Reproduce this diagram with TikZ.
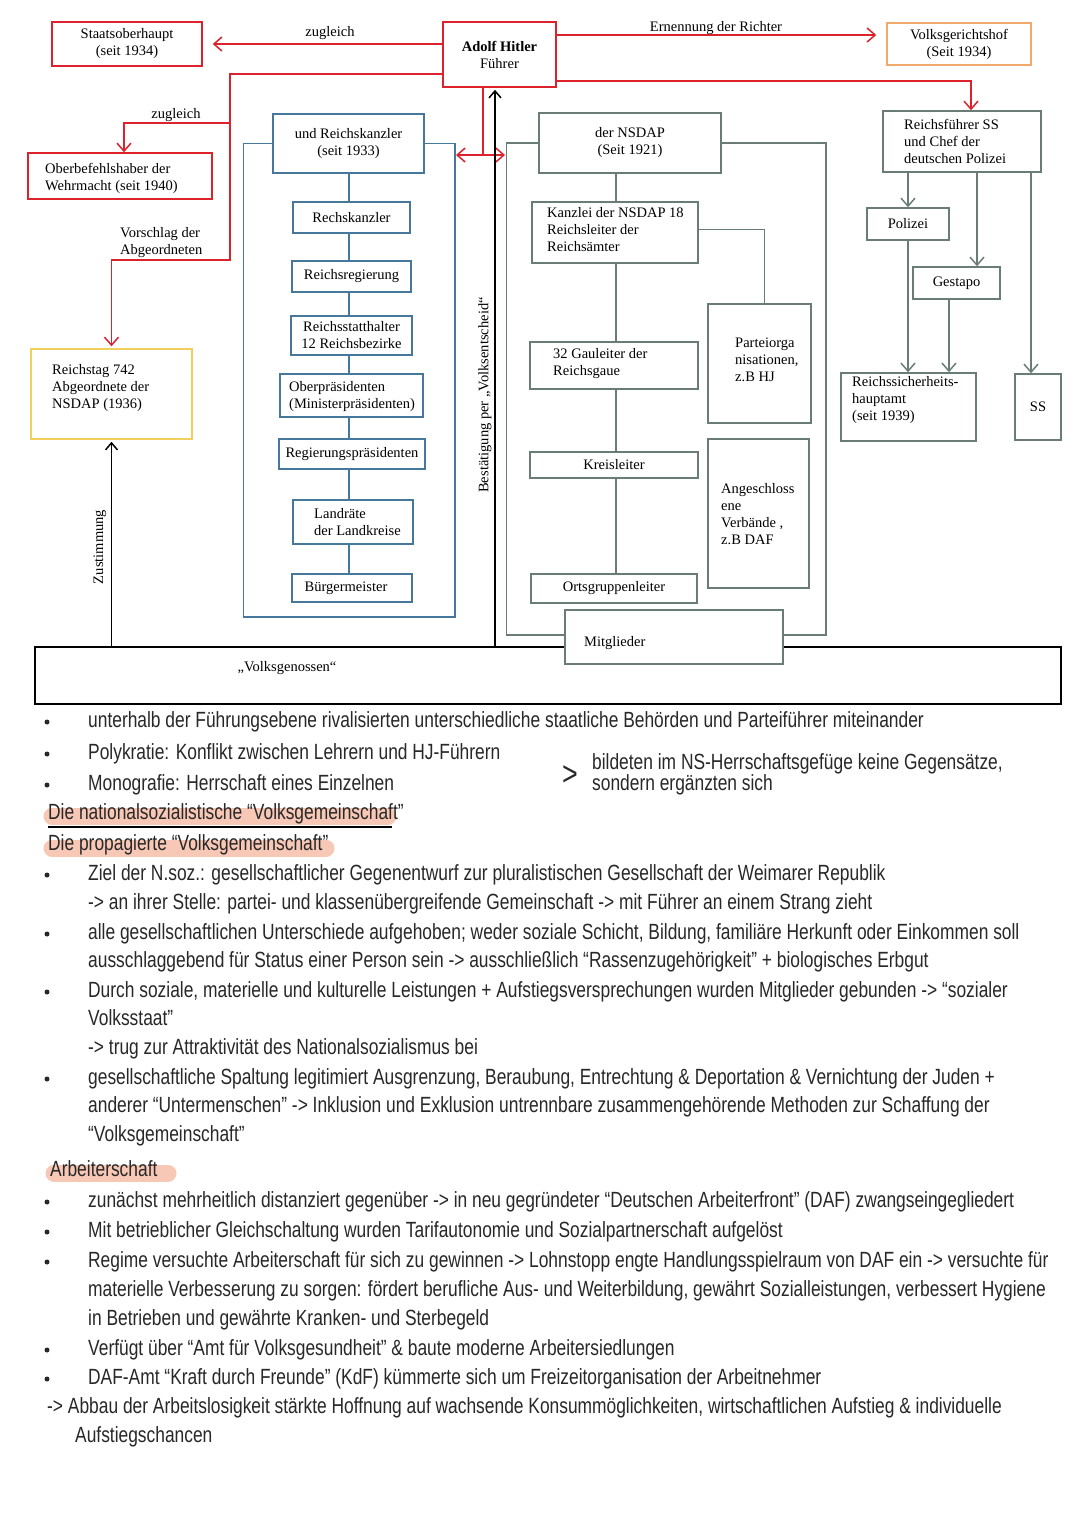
\documentclass[tikz,border=0pt]{standalone}
\usepackage{fontspec}
\setmainfont{Liberation Serif}
\newfontfamily\hand[FakeStretch=0.79]{Liberation Sans}
\usetikzlibrary{arrows.meta,calc}
\definecolor{myred}{RGB}{220,34,44}
\definecolor{myblue}{RGB}{70,120,155}
\definecolor{mygray}{RGB}{105,125,118}
\definecolor{myyellow}{RGB}{240,208,90}
\definecolor{myorange}{RGB}{240,170,110}
\definecolor{hilite}{RGB}{248,200,182}
\definecolor{hwcol}{RGB}{40,40,40}
\begin{document}
\begin{tikzpicture}[x=1pt,y=-1pt,
  every node/.style={inner sep=0pt, font=\fontsize{14.5}{17}\selectfont},
  redbox/.style={draw=myred, line width=1.5pt, align=center},
  bluebox/.style={draw=myblue, line width=1.5pt, align=center},
  graybox/.style={draw=mygray, line width=1.5pt, align=center},
  redline/.style={draw=myred, line width=1.5pt},
  blueline/.style={draw=myblue, line width=1.5pt},
  grayline/.style={draw=mygray, line width=1.5pt},
  blackline/.style={draw=black, line width=1.5pt},
  barb/.style={-{Straight Barb[length=8pt,width=14pt]}},
  barbs/.style={{Straight Barb[length=8pt,width=14pt]}-{Straight Barb[length=8pt,width=14pt]}},
  blbarb/.style={-{Straight Barb[length=7pt,width=12pt]}},
  lbl/.style={align=left, anchor=west},
  hw/.style={font=\hand\fontsize{22}{26}\selectfont, text=hwcol, anchor=base west},
  hl/.style={draw=hilite, line width=17pt, line cap=round},
  dot/.style={fill=hwcol}
]
\useasboundingbox (0,0) rectangle (1080,1527);
\fill[white] (0,0) rectangle (1080,1527);

% ---------- red boxes ----------
\node[redbox, minimum width=150, minimum height=44] (staats) at (127,44) {Staatsoberhaupt\\(seit 1934)};
\node[redbox, minimum width=113, minimum height=65] (hitler) at (499.5,54.5) {\textbf{Adolf Hitler}\\Führer};
\node[redbox, minimum width=184, minimum height=46] (ob) at (120,176) {};
\node[lbl] at (45,178.5) {Oberbefehlshaber der\\Wehrmacht (seit 1940)};
\node[draw=myorange, line width=1.5pt, align=center, minimum width=144, minimum height=42] (vgh) at (959,44) {Volksgerichtshof\\(Seit 1934)};
\node[draw=myyellow, line width=1.5pt, minimum width=161, minimum height=90] (rt) at (111.5,394) {};
\node[lbl] at (52,388) {Reichstag 742\\Abgeordnete der\\NSDAP (1936)};

% ---------- blue column ----------
\node[bluebox, minimum width=151, minimum height=59] (rk) at (348.5,143.5) {und Reichskanzler\\(seit 1933)};
\node[bluebox, minimum width=117, minimum height=31] (rks) at (351.5,217.5) {Rechskanzler};
\node[bluebox, minimum width=119, minimum height=31] (rr) at (351.5,276.5) {Reichsregierung};
\node[bluebox, minimum width=121, minimum height=39] (rsh) at (351.5,335.5) {Reichsstatthalter\\12 Reichsbezirke};
\node[bluebox, minimum width=143, minimum height=43] (op) at (351.5,395.5) {};
\node[lbl] at (289,396.5) {Oberpräsidenten\\(Ministerpräsidenten)};
\node[bluebox, minimum width=146, minimum height=30] (rp) at (352,454) {Regierungspräsidenten};
\node[bluebox, minimum width=120, minimum height=44] (lr) at (353,522) {};
\node[lbl] at (314,522) {Landräte\\der Landkreise};
\node[bluebox, minimum width=120, minimum height=28] (bm) at (352,588) {};
\node at (346,588) {Bürgermeister};
\coordinate (bx) at (349,0);
\foreach \a/\b in {rk/rks,rks/rr,rr/rsh,rsh/op,op/rp,rp/lr,lr/bm}
  \draw[blueline] (\a.south -| bx) -- (\b.north -| bx);
\draw[blueline] (rk.west) -- ++(-29,0) |- (455,617) |- (rk.east);

% ---------- gray party column ----------
\node[graybox, minimum width=182, minimum height=60] (nsdap) at (630,143) {der NSDAP\\(Seit 1921)};
\node[graybox, minimum width=166, minimum height=61] (kz) at (615,232.5) {};
\node[lbl] at (547,230) {Kanzlei der NSDAP 18\\Reichsleiter der\\Reichsämter};
\node[graybox, minimum width=168, minimum height=47] (gl) at (614,365.5) {};
\node[lbl] at (553,364) {32 Gauleiter der\\Reichsgaue};
\node[graybox, minimum width=168, minimum height=26] (kl) at (614,465) {Kreisleiter};
\node[graybox, minimum width=166, minimum height=29] (og) at (614,588.5) {Ortsgruppenleiter};
\node[graybox, minimum width=103, minimum height=119] (po) at (759.5,363.5) {};
\node[lbl] at (735,360) {Parteiorga\\nisationen,\\z.B HJ};
\node[graybox, minimum width=101, minimum height=149] (av) at (758.5,513.5) {};
\node[lbl] at (721,514.5) {Angeschloss\\ene\\Verbände ,\\z.B DAF};
\coordinate (gxl) at (616,0);
\foreach \a/\b in {nsdap/kz,kz/gl,gl/kl,kl/og}
  \draw[grayline] (\a.south -| gxl) -- (\b.north -| gxl);
\draw[grayline] ([yshift=3pt]kz.east) -| ([xshift=5pt]po.north);

% ---------- police column ----------
\node[graybox, minimum width=158, minimum height=61] (rfss) at (962,141.5) {};
\node[lbl] at (904,141) {Reichsführer SS\\und Chef der\\deutschen Polizei};
\node[graybox, minimum width=82, minimum height=32] (pol) at (908,224) {Polizei};
\node[graybox, minimum width=87, minimum height=32] (gst) at (956.5,283) {Gestapo};
\node[graybox, minimum width=135, minimum height=68] (rsha) at (908.5,407) {};
\node[lbl] at (852,400) {Reichssicherheits-\\hauptamt\\(seit 1939)};
\node[graybox, minimum width=46, minimum height=66] (ss) at (1038,407) {SS};
\coordinate (gx1) at (977,0);
\coordinate (gx2) at (949,0);
\coordinate (ssx) at (1031,0);
\draw[grayline, barb] (rfss.south -| pol.north) -- (pol.north);
\draw[grayline, barb] (rfss.south -| gx1) -- (gst.north -| gx1);
\draw[grayline, barb] (pol.south) -- (pol.south |- rsha.north);
\draw[grayline, barb] (gst.south -| gx2) -- (rsha.north -| gx2);
\draw[grayline, barb] (rfss.south -| ssx) -- (ss.north -| ssx);

% ---------- Volksgenossen ----------
\node[draw=black, line width=1.8pt, minimum width=1026, minimum height=57] (vg) at (548,675.5) {};
\node at (287,668) {„Volksgenossen“};
\node[graybox, fill=white, minimum width=218, minimum height=54] (mg) at (674,637) {};
\node[lbl] at (584,643) {Mitglieder};
\draw[grayline] (nsdap.west) -- ++(-32,0) |- ([yshift=2pt]mg.west);
\draw[grayline] ([yshift=2pt]mg.east) -| (826,143) -- (nsdap.east);

% ---------- red connectors ----------
\draw[redline, barb, shorten >=10pt] (hitler.west |- staats.east) -- (staats.east);
\node at (330,33) {zugleich};
\coordinate (ve) at ([yshift=9pt]vgh.west);
\draw[redline, barb, shorten >=10pt] (hitler.east |- ve) -- (ve);
\node at (716,28) {Ernennung der Richter};
\draw[redline, barb] ([yshift=-26.5pt]hitler.east) -| ([xshift=9pt]rfss.north);
\draw[redline, barb, shorten >=2pt] ([yshift=-19.5pt]hitler.west) -| (230,260) -| (rt.north);
\draw[redline, barb] (230,123) -| ([xshift=4pt]ob.north);
\node at (176,115) {zugleich};
\node[lbl] at (120,242.5) {Vorschlag der\\Abgeordneten};
\coordinate (hx) at (483,0);
\coordinate (dbl) at (483,155);
\draw[redline] (hitler.south -| hx) -- (dbl);
\draw[redline, barbs] (456,155) -- (505,155);

% ---------- black connectors ----------
\draw[blackline, blbarb, shorten >=2pt] (rt.south |- vg.north) -- (rt.south);
\node[rotate=90] at (100,547) {Zustimmung};
\coordinate (bst) at (495,0);
\draw[blackline, blbarb, shorten >=2pt] (vg.north -| bst) -- (hitler.south -| bst);
\node[rotate=90] at (485,395) {Bestätigung per „Volksentscheid“};

% ---------- handwritten notes ----------
\draw[hl] (52,816) -- (388,816);
\draw[hl] (52,848) -- (326,848);
\draw[hl] (54,1173) -- (168,1173);
\draw[black, line width=1.2pt] (48,827) -- (392,827);

\foreach \y in {722,754,785,875,934,992,1079,1202,1232,1262,1350,1379}
  \fill[dot] (47,\y) circle (2.5);

\node[hw] at (88,727) {unterhalb der Führungsebene rivalisierten unterschiedliche staatliche Behörden und Parteiführer miteinander};
\node[hw] at (88,759) {Polykratie: Konflikt zwischen Lehrern und HJ-Führern};
\node[hw] at (88,790) {Monografie: Herrschaft eines Einzelnen};
\node[hw, font=\hand\fontsize{34}{34}\selectfont] at (562,785) {>};
\node[hw] at (592,769) {bildeten im NS-Herrschaftsgefüge keine Gegensätze,};
\node[hw] at (592,790) {sondern ergänzten sich};
\node[hw] at (48,819) {Die nationalsozialistische “Volksgemeinschaft”};
\node[hw] at (48,850) {Die propagierte “Volksgemeinschaft”};
\node[hw] at (88,880) {Ziel der N.soz.: gesellschaftlicher Gegenentwurf zur pluralistischen Gesellschaft der Weimarer Republik};
\node[hw] at (88,909) {-> an ihrer Stelle: partei- und klassenübergreifende Gemeinschaft -> mit Führer an einem Strang zieht};
\node[hw] at (88,939) {alle gesellschaftlichen Unterschiede aufgehoben; weder soziale Schicht, Bildung, familiäre Herkunft oder Einkommen soll};
\node[hw] at (88,967) {ausschlaggebend für Status einer Person sein -> ausschließlich “Rassenzugehörigkeit” + biologisches Erbgut};
\node[hw] at (88,997) {Durch soziale, materielle und kulturelle Leistungen + Aufstiegsversprechungen wurden Mitglieder gebunden -> “sozialer};
\node[hw] at (88,1025) {Volksstaat”};
\node[hw] at (88,1054) {-> trug zur Attraktivität des Nationalsozialismus bei};
\node[hw] at (88,1084) {gesellschaftliche Spaltung legitimiert Ausgrenzung, Beraubung, Entrechtung \& Deportation \& Vernichtung der Juden +};
\node[hw] at (88,1112) {anderer “Untermenschen” -> Inklusion und Exklusion untrennbare zusammengehörende Methoden zur Schaffung der};
\node[hw] at (88,1141) {“Volksgemeinschaft”};
\node[hw] at (50,1176) {Arbeiterschaft};
\node[hw] at (88,1207) {zunächst mehrheitlich distanziert gegenüber -> in neu gegründeter “Deutschen Arbeiterfront” (DAF) zwangseingegliedert};
\node[hw] at (88,1237) {Mit betrieblicher Gleichschaltung wurden Tarifautonomie und Sozialpartnerschaft aufgelöst};
\node[hw] at (88,1267) {Regime versuchte Arbeiterschaft für sich zu gewinnen -> Lohnstopp engte Handlungsspielraum von DAF ein -> versuchte für};
\node[hw] at (88,1296) {materielle Verbesserung zu sorgen: fördert berufliche Aus- und Weiterbildung, gewährt Sozialleistungen, verbessert Hygiene};
\node[hw] at (88,1325) {in Betrieben und gewährte Kranken- und Sterbegeld};
\node[hw] at (88,1355) {Verfügt über “Amt für Volksgesundheit” \& baute moderne Arbeitersiedlungen};
\node[hw] at (88,1384) {DAF-Amt “Kraft durch Freunde” (KdF) kümmerte sich um Freizeitorganisation der Arbeitnehmer};
\node[hw] at (47,1413) {-> Abbau der Arbeitslosigkeit stärkte Hoffnung auf wachsende Konsummöglichkeiten, wirtschaftlichen Aufstieg \& individuelle};
\node[hw] at (75,1442) {Aufstiegschancen};
\end{tikzpicture}
\end{document}
